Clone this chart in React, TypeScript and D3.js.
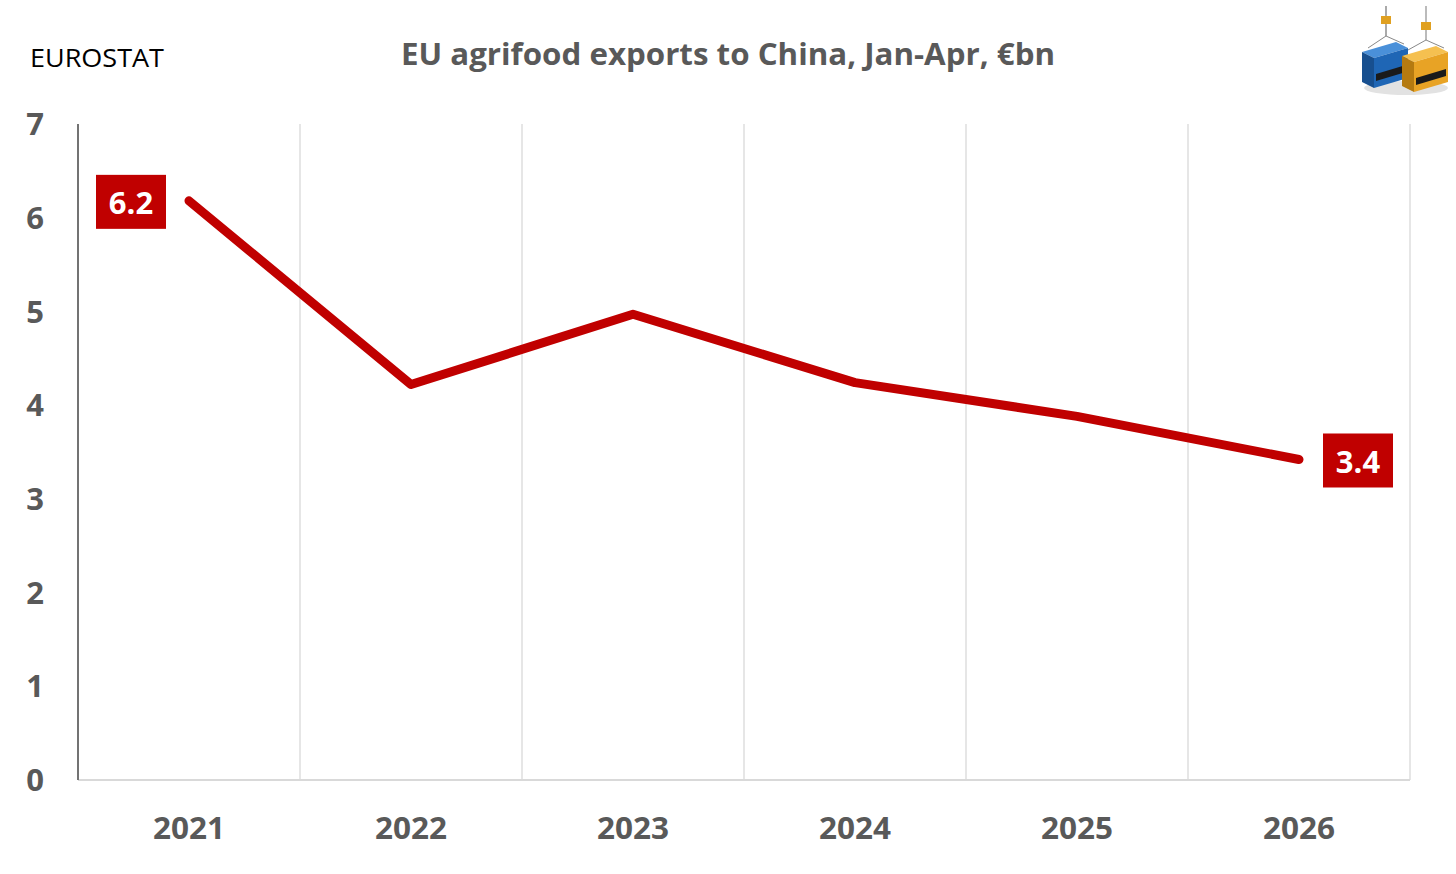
import * as d3 from "d3";
import { useEffect, useRef } from "react";

const years = ["2021", "2022", "2023", "2024", "2025", "2026"];
const exportsBn = [6.18, 4.22, 4.97, 4.24, 3.88, 3.42];
const yTicks = [0, 1, 2, 3, 4, 5, 6, 7];
const labelled = [
  { year: "2021", text: "6.2", side: "left" },
  { year: "2026", text: "3.4", side: "right" },
];

const RED = "#c00000";
const GREY_TEXT = "#595959";

export default function App() {
  const svgRef = useRef<SVGSVGElement>(null);
  const width = 1456;
  const height = 874;

  useEffect(() => {
    if (!svgRef.current) return;
    const svg = d3.select(svgRef.current);
    svg.selectAll("*").remove();

    const x = d3.scaleBand<string>().domain(years).range([78, 1410]);
    const y = d3.scaleLinear().domain([0, 7]).range([780, 124]);
    const font = "'Open Sans', 'Noto Sans', sans-serif";

    svg.append("rect").attr("width", width).attr("height", height).attr("fill", "#fff");

    // vertical gridlines at band boundaries
    const bounds = years.slice(1).map((d) => x(d)!).concat([x.range()[1]]);
    svg
      .append("g")
      .selectAll("line")
      .data(bounds)
      .join("line")
      .attr("x1", (d) => d)
      .attr("x2", (d) => d)
      .attr("y1", y(7))
      .attr("y2", y(0))
      .attr("stroke", "#e6e6e6")
      .attr("stroke-width", 2);

    // axes lines
    svg
      .append("line")
      .attr("x1", x.range()[0])
      .attr("x2", x.range()[1])
      .attr("y1", y(0))
      .attr("y2", y(0))
      .attr("stroke", "#d9d9d9")
      .attr("stroke-width", 2);
    svg
      .append("line")
      .attr("x1", x.range()[0])
      .attr("x2", x.range()[0])
      .attr("y1", y(7))
      .attr("y2", y(0))
      .attr("stroke", "#737373")
      .attr("stroke-width", 2);

    // y tick labels
    svg
      .append("g")
      .selectAll("text")
      .data(yTicks)
      .join("text")
      .attr("x", 35)
      .attr("y", (d) => y(d))
      .attr("dy", "0.36em")
      .attr("text-anchor", "middle")
      .attr("font-family", font)
      .attr("font-weight", 700)
      .attr("font-size", 31)
      .attr("fill", GREY_TEXT)
      .text((d) => d);

    // x tick labels
    svg
      .append("g")
      .selectAll("text")
      .data(years)
      .join("text")
      .attr("x", (d) => x(d)! + x.bandwidth() / 2)
      .attr("y", 839)
      .attr("text-anchor", "middle")
      .attr("font-family", font)
      .attr("font-weight", 700)
      .attr("font-size", 31)
      .attr("fill", GREY_TEXT)
      .attr("textLength", 72)
      .attr("lengthAdjust", "spacingAndGlyphs")
      .text((d) => d);

    // line
    const line = d3
      .line<number>()
      .x((_, i) => x(years[i])! + x.bandwidth() / 2)
      .y((d) => y(d));
    svg
      .append("path")
      .datum(exportsBn)
      .attr("fill", "none")
      .attr("stroke", RED)
      .attr("stroke-width", 9)
      .attr("stroke-linecap", "round")
      .attr("stroke-linejoin", "round")
      .attr("d", line);

    // data labels
    labelled.forEach((l) => {
      const i = years.indexOf(l.year);
      const cx = x(l.year)! + x.bandwidth() / 2;
      const cy = y(exportsBn[i]);
      const bw = 70;
      const bh = 54;
      const bx = l.side === "left" ? cx - 93 : cx + 24;
      const g = svg.append("g");
      g.append("rect")
        .attr("x", bx)
        .attr("y", cy - bh / 2 + 1)
        .attr("width", bw)
        .attr("height", bh)
        .attr("fill", RED);
      g.append("text")
        .attr("x", bx + bw / 2)
        .attr("y", cy + 2)
        .attr("dy", "0.36em")
        .attr("text-anchor", "middle")
        .attr("font-family", font)
        .attr("font-weight", 700)
        .attr("font-size", 31)
        .attr("fill", "#fff")
        .text(l.text);
    });

    // title and source
    svg
      .append("text")
      .attr("x", 728)
      .attr("y", 65)
      .attr("text-anchor", "middle")
      .attr("font-family", font)
      .attr("font-weight", 700)
      .attr("font-size", 30)
      .attr("fill", GREY_TEXT)
      .attr("textLength", 654)
      .attr("lengthAdjust", "spacingAndGlyphs")
      .text("EU agrifood exports to China, Jan-Apr, €bn");
    svg
      .append("text")
      .attr("x", 30)
      .attr("y", 67)
      .attr("font-family", font)
      .attr("font-size", 26)
      .attr("fill", "#000")
      .attr("textLength", 134)
      .attr("lengthAdjust", "spacingAndGlyphs")
      .text("EUROSTAT");

    // small container logo
    const logo = svg.append("g").attr("transform", "translate(1360,6)");
    logo.append("ellipse").attr("cx", 46).attr("cy", 82).attr("rx", 42).attr("ry", 7).attr("fill", "#e2e2e2");
    logo.append("line").attr("x1", 26).attr("x2", 26).attr("y1", 0).attr("y2", 30).attr("stroke", "#aaa").attr("stroke-width", 2);
    logo.append("line").attr("x1", 66).attr("x2", 66).attr("y1", 0).attr("y2", 34).attr("stroke", "#bbb").attr("stroke-width", 2);
    logo.append("rect").attr("x", 21).attr("y", 10).attr("width", 10).attr("height", 8).attr("fill", "#e0a020");
    logo.append("rect").attr("x", 61).attr("y", 16).attr("width", 10).attr("height", 8).attr("fill", "#e0a020");
    logo.append("path").attr("d", "M26,30 L8,42 M26,30 L44,38").attr("stroke", "#888").attr("stroke-width", 1);
    logo.append("path").attr("d", "M66,34 L48,44 M66,34 L84,42").attr("stroke", "#888").attr("stroke-width", 1);
    // blue container
    logo.append("path").attr("d", "M2,46 L36,36 L48,42 L14,52 Z").attr("fill", "#4a90d9");
    logo.append("path").attr("d", "M2,46 L14,52 L14,82 L2,76 Z").attr("fill", "#174f8f");
    logo.append("path").attr("d", "M14,52 L48,42 L48,72 L14,82 Z").attr("fill", "#1f66b5");
    logo.append("path").attr("d", "M16,68 L46,59 L46,66 L16,75 Z").attr("fill", "#1a1a1a");
    // orange container
    logo.append("path").attr("d", "M42,50 L76,40 L88,46 L54,56 Z").attr("fill", "#f5c050");
    logo.append("path").attr("d", "M42,50 L54,56 L54,86 L42,80 Z").attr("fill", "#b57a10");
    logo.append("path").attr("d", "M54,56 L88,46 L88,76 L54,86 Z").attr("fill", "#e8a325");
    logo.append("path").attr("d", "M56,72 L86,63 L86,70 L56,79 Z").attr("fill", "#1a1a1a");
  }, []);

  return (
    <svg
      ref={svgRef}
      width={width}
      height={height}
      viewBox={`0 0 ${width} ${height}`}
      style={{ position: "absolute", left: 0, top: 0, display: "block" }}
    />
  );
}
